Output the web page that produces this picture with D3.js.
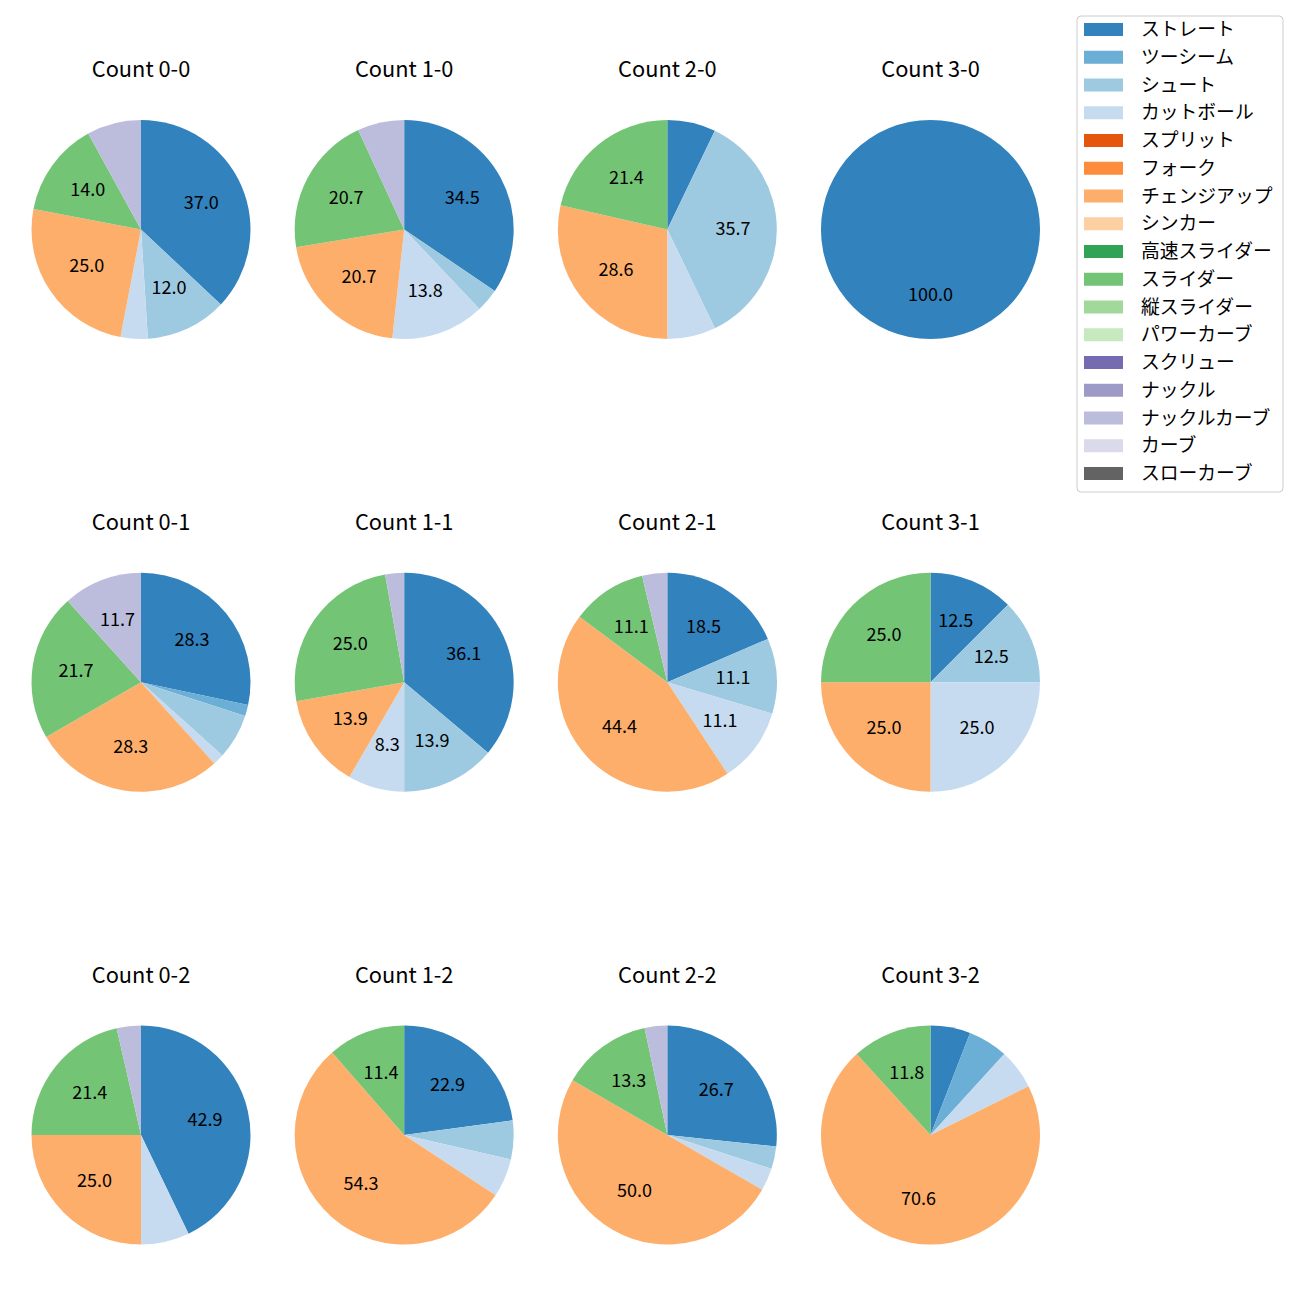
<!DOCTYPE html>
<html>
<head>
<meta charset="utf-8">
<script src="https://cdn.jsdelivr.net/npm/d3@7"></script>
<style>
  body { margin: 0; background: #fff; }
  text { font-family: "Noto Sans CJK JP", "Noto Sans", sans-serif; fill: #000; }
</style>
</head>
<body>
<div id="chart-area"></div>
<script>
// pitch types and their colours (tab20c)
let pitchTypes = ["ストレート", "ツーシーム", "シュート", "カットボール", "スプリット", "フォーク",
    "チェンジアップ", "シンカー", "高速スライダー", "スライダー", "縦スライダー", "パワーカーブ",
    "スクリュー", "ナックル", "ナックルカーブ", "カーブ", "スローカーブ"];
let pitchColors = ["#3182bd", "#6baed6", "#9ecae1", "#c6dbef", "#e6550d", "#fd8d3c",
    "#fdae6b", "#fdd0a2", "#31a354", "#74c476", "#a1d99b", "#c7e9c0",
    "#756bb1", "#9e9ac8", "#bcbddc", "#dadaeb", "#636363"];

// pitch counts per ball-strike count, same order as pitchTypes
let count00 = [37, 0, 12, 4, 0, 0, 25, 0, 0, 14, 0, 0, 0, 0, 8, 0, 0];
let count10 = [10, 0, 1, 4, 0, 0, 6, 0, 0, 6, 0, 0, 0, 0, 2, 0, 0];
let count20 = [1, 0, 5, 1, 0, 0, 4, 0, 0, 3, 0, 0, 0, 0, 0, 0, 0];
let count30 = [3, 0, 0, 0, 0, 0, 0, 0, 0, 0, 0, 0, 0, 0, 0, 0, 0];
let count01 = [17, 1, 4, 1, 0, 0, 17, 0, 0, 13, 0, 0, 0, 0, 7, 0, 0];
let count11 = [13, 0, 5, 3, 0, 0, 5, 0, 0, 9, 0, 0, 0, 0, 1, 0, 0];
let count21 = [5, 0, 3, 3, 0, 0, 12, 0, 0, 3, 0, 0, 0, 0, 1, 0, 0];
let count31 = [1, 0, 1, 2, 0, 0, 2, 0, 0, 2, 0, 0, 0, 0, 0, 0, 0];
let count02 = [12, 0, 0, 2, 0, 0, 7, 0, 0, 6, 0, 0, 0, 0, 1, 0, 0];
let count12 = [8, 0, 2, 2, 0, 0, 19, 0, 0, 4, 0, 0, 0, 0, 0, 0, 0];
let count22 = [8, 0, 1, 1, 0, 0, 15, 0, 0, 4, 0, 0, 0, 0, 1, 0, 0];
let count32 = [1, 1, 0, 1, 0, 0, 12, 0, 0, 2, 0, 0, 0, 0, 0, 0, 0];

let panels = [
    {title: "Count 0-0", col: 0, row: 0, values: count00},
    {title: "Count 1-0", col: 1, row: 0, values: count10},
    {title: "Count 2-0", col: 2, row: 0, values: count20},
    {title: "Count 3-0", col: 3, row: 0, values: count30},
    {title: "Count 0-1", col: 0, row: 1, values: count01},
    {title: "Count 1-1", col: 1, row: 1, values: count11},
    {title: "Count 2-1", col: 2, row: 1, values: count21},
    {title: "Count 3-1", col: 3, row: 1, values: count31},
    {title: "Count 0-2", col: 0, row: 2, values: count02},
    {title: "Count 1-2", col: 1, row: 2, values: count12},
    {title: "Count 2-2", col: 2, row: 2, values: count22},
    {title: "Count 3-2", col: 3, row: 2, values: count32}
];

let width = 1300, height = 1300;
let radius = 109.5;

let svg = d3.select("#chart-area").append("svg")
    .attr("width", width)
    .attr("height", height);

// grid positions of pie centres
let colX = d3.scaleLinear().domain([0, 3]).range([141, 930.5]);
let rowY = d3.scaleLinear().domain([0, 2]).range([229.5, 1135]);
let color = d3.scaleOrdinal().domain(pitchTypes).range(pitchColors);

let pie = d3.pie()
    .sort(null)
    .value(d => d.value);

let arc = d3.arc().innerRadius(0).outerRadius(radius);
let labelArc = d3.arc().innerRadius(radius * 0.6).outerRadius(radius * 0.6);

panels.forEach(function (p) {
    let total = d3.sum(p.values);
    let slices = p.values
        .map((v, i) => ({type: pitchTypes[i], value: v}))
        .filter(d => d.value > 0);

    let g = svg.append("g")
        .attr("transform", "translate(" + colX(p.col) + "," + rowY(p.row) + ")");

    let arcs = pie(slices);

    g.selectAll("path")
        .data(arcs)
        .enter().append("path")
        .attr("d", arc)
        .attr("fill", d => color(d.data.type));

    g.selectAll(".pct")
        .data(arcs.filter(d => d.data.value / total * 100 > 8))
        .enter().append("text")
        .attr("class", "pct")
        .attr("transform", d => "translate(" + labelArc.centroid(d) + ")")
        .attr("text-anchor", "middle")
        .attr("dy", "0.3em")
        .style("font-size", "18px")
        .text(d => (d.data.value / total * 100).toFixed(1));

    g.append("text")
        .attr("x", 0)
        .attr("y", -152.5)
        .attr("text-anchor", "middle")
        .style("font-size", "21.8px")
        .text(p.title);
});

// legend
let legend = svg.append("g").attr("transform", "translate(1077,16)");

legend.append("rect")
    .attr("width", 206)
    .attr("height", 476)
    .attr("rx", 4)
    .attr("fill", "#fff")
    .attr("fill-opacity", 0.8)
    .attr("stroke", "#cccccc");

let item = legend.selectAll(".item")
    .data(pitchTypes)
    .enter().append("g")
    .attr("class", "item")
    .attr("transform", (d, i) => "translate(0," + (13.5 + i * 27.75) + ")");

item.append("rect")
    .attr("x", 7)
    .attr("y", -6.5)
    .attr("width", 39)
    .attr("height", 13)
    .attr("fill", d => color(d));

item.append("text")
    .attr("x", 64)
    .attr("dy", "0.35em")
    .style("font-size", "18.8px")
    .text(d => d);
</script>
</body>
</html>
